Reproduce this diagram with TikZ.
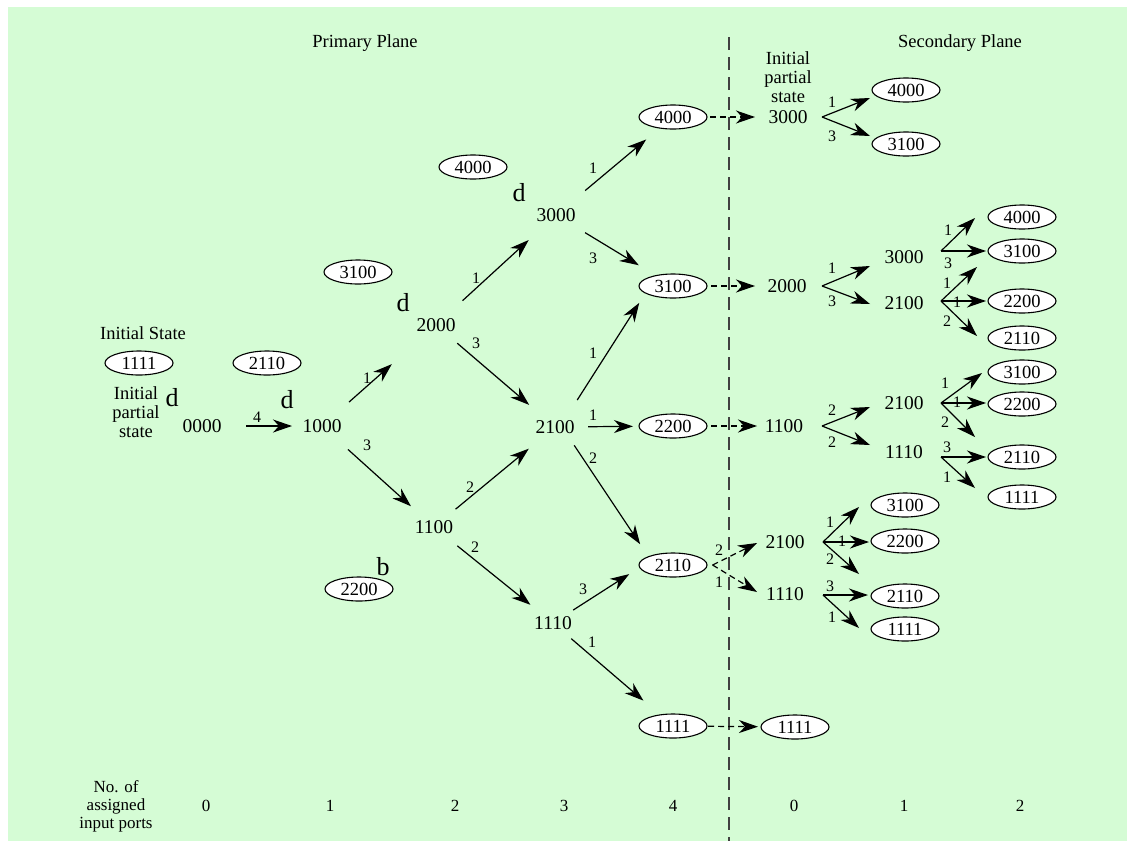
\documentclass[tikz,border=0pt]{standalone}
\usepackage{fontspec}
\setmainfont{Liberation Serif}
\usetikzlibrary{shapes.geometric,arrows.meta,calc}
\definecolor{bgcol}{RGB}{213,252,213}
\definecolor{divcol}{RGB}{64,64,64}
% connector between two named points, with shortening and a label
\newcommand\edg[8]{\draw[#1, shorten <=#4pt, shorten >=#5pt] (#2) -- (#3) node[lbl] (#7) at (#6) {#8};}
\newcommand\edgn[5]{\draw[#1, shorten <=#4pt, shorten >=#5pt] (#2) -- (#3);}
\newcommand\fan[6]{\draw[#1] (#2) -- (#3) node[lbl] (#5) at (#4) {#6};}
\begin{document}
\begin{tikzpicture}[x=1pt,y=-1pt,
  st/.style={inner sep=0pt, font=\fontsize{19.5}{19}\selectfont},
  ttl/.style={inner sep=0pt, align=center, font=\fontsize{18.5}{19}\selectfont},
  bt/.style={inner sep=0pt, align=center, font=\fontsize{17}{18}\selectfont},
  ell/.style={ellipse, draw, fill=white, line width=1.1pt, minimum width=68pt,
              minimum height=24pt, inner sep=0pt, font=\fontsize{18.5}{18}\selectfont},
  lbl/.style={inner sep=0pt, font=\fontsize{16}{16}\selectfont},
  dmark/.style={inner sep=0pt, font=\fontsize{26}{26}\selectfont},
  arr/.style={line width=1.2pt, -{Stealth[length=19pt,width=13pt,inset=6pt]}},
  darr/.style={arr, dash pattern=on 6pt off 4pt}]
\useasboundingbox (0,0) rectangle (1134,849);
\fill[bgcol] (8,7) rectangle (1127,841);

% divider
\draw[divcol, line width=1.3pt, dash pattern=on 13pt off 7pt] (729,37) -- (729,841);

% titles
\node[ttl, anchor=base] (tp) at (365,47) {Primary Plane};
\node[ttl, anchor=base] (ts) at (960,47) {Secondary Plane};

% left texts
\node[ttl] (ist) at (143,333) {Initial State};
\node[ttl] (ips) at (136,412) {Initial\\partial\\state};

% primary plane states
\node[st] (p0000) at (202,426) {0000};
\node[st] (p1000) at (322,426) {1000};
\node[st] (p2000) at (436,325) {2000};
\node[st] (p3000) at (556,215) {3000};
\node[st] (p1100) at (434,527) {1100};
\node[st] (p2100) at (555,427) {2100};
\node[st] (p1110) at (553,623) {1110};
\node[ell] (e4000) at (673,117) {4000};
\node[ell] (e3100) at (673,286) {3100};
\node[ell] (e2200) at (673,426) {2200};
\node[ell] (e2110) at (673,565) {2110};
\node[ell] (e1111) at (673,726) {1111};

% side ellipses and marks
\node[ell] (s1111) at (139,363) {1111};
\node[ell] (s2110) at (267,363) {2110};
\node[ell] (s3100) at (358,272) {3100};
\node[ell] (s4000) at (473,167) {4000};
\node[ell] (s2200) at (359,589) {2200};
\node[dmark] (d0) at (172,398) {d};
\node[dmark] (d1) at (287,400) {d};
\node[dmark] (d2) at (403,303) {d};
\node[dmark] (d3) at (519,193) {d};
\node[dmark] (bb) at (383,567) {b};

% primary edges
\edg{arr}{p0000.center}{p1000.center}{44}{30}{257,417}{l1}{4}
\edg{arr}{p1000.center}{p2000.center}{36}{59}{367,378}{l2}{1}
\edg{arr}{p1000.center}{p1100.center}{35}{31}{367,445}{l3}{3}
\edg{arr}{p2000.center}{p3000.center}{36}{37}{476,278}{l4}{1}
\edg{arr}{p2000.center}{p2100.center}{28}{34}{476,343}{l5}{3}
\edg{arr}{p3000.center}{e4000.center}{38}{35}{593,168}{l6}{1}
\edg{arr}{p3000.center}{e3100.center}{34}{40}{593,258}{l7}{3}
\edg{arr}{$(p2100.center)+(5,0)$}{$(e3100.center)+(-23,0)$}{32}{20}{593,353}{l8}{1}
\edg{arr}{p2100.center}{e2200.center}{33}{40}{593,415}{l9}{1}
\edg{arr}{$(p2100.center)+(7,0)$}{$(e2110.center)+(-19,0)$}{22}{25}{593,458}{l10}{2}
\edg{arr}{p1100.center}{p2100.center}{28}{34}{470,487}{l11}{2}
\edg{arr}{p1100.center}{p1110.center}{30}{29}{475,547}{l12}{2}
\edg{arr}{p1110.center}{$(e2110.center)+(0,-19)$}{24}{52}{583,589}{l13}{3}
\edg{arr}{p1110.center}{e1111.center}{24}{39}{592,642}{l14}{1}

% secondary plane states
\node[ttl] (ips2) at (788,77) {Initial\\partial\\state};
\node[st] (q3000) at (788,117) {3000};
\node[st] (q2000) at (787,286) {2000};
\node[st] (q1100) at (784,426) {1100};
\node[st] (q2100b) at (785,542) {2100};
\node[st] (q1110b) at (785,594) {1110};
\node[ell] (eq1111) at (795,727) {1111};
\node[ell] (r4000) at (906,90) {4000};
\node[ell] (r3100) at (906,144) {3100};
\node[st] (q3000b) at (904,257) {3000};
\node[st] (q2100a) at (904,303) {2100};
\node[st] (q2100c) at (904,403) {2100};
\node[st] (q1110c) at (904,452) {1110};
\node[ell] (f4000) at (1022,217) {4000};
\node[ell] (f3100a) at (1022,251) {3100};
\node[ell] (f2200a) at (1022,301) {2200};
\node[ell] (f2110a) at (1022,338) {2110};
\node[ell] (f3100b) at (1022,372) {3100};
\node[ell] (f2200b) at (1022,404) {2200};
\node[ell] (f2110b) at (1022,457) {2110};
\node[ell] (f1111b) at (1022,497) {1111};
\node[ell] (g3100) at (905,505) {3100};
\node[ell] (g2200) at (905,541) {2200};
\node[ell] (g2110) at (905,596) {2110};
\node[ell] (g1111) at (905,629) {1111};

% crossing dashed arrows
\edgn{darr}{e4000.center}{q3000.center}{37}{33}
\edgn{darr}{e3100.center}{q2000.center}{38}{32}
\edgn{darr}{e2200.center}{q1100.center}{38}{27}
\edgn{darr}{e1111.center}{eq1111.center}{35}{37}

% fan origins
\coordinate (o1) at ($(q3000.center)+(34,0)$);
\coordinate (o2) at ($(q2000.center)+(35,0)$);
\coordinate (o3) at ($(q1100.center)+(38,0)$);
\coordinate (o4) at ($(q3000b.center)+(37,-6)$);
\coordinate (o5) at ($(q2100a.center)+(37,-2)$);
\coordinate (o6) at ($(q2100c.center)+(37,0)$);
\coordinate (o7) at ($(q1110c.center)+(37,5)$);
\coordinate (o8) at ($(q2100b.center)+(38,0)$);
\coordinate (o9) at ($(q1110b.center)+(38,1)$);
\coordinate (o10) at ($(e2110.east)+(5,0)$);

% fan tips
\coordinate (t1a) at (870,98);  \coordinate (t1b) at (870,136);
\coordinate (t2a) at (870,266); \coordinate (t2b) at (870,304);
\coordinate (t3a) at (870,407); \coordinate (t3b) at (870,445);
\coordinate (t4a) at (975,218); \coordinate (t4b) at (986,251);
\coordinate (t5a) at (977,267); \coordinate (t5b) at (986,301); \coordinate (t5c) at (977,336);
\coordinate (t6a) at (982,373); \coordinate (t6b) at (986,403); \coordinate (t6c) at (975,437);
\coordinate (t7a) at (986,457); \coordinate (t7b) at (975,488);
\coordinate (t8a) at (859,507); \coordinate (t8b) at (869,542); \coordinate (t8c) at (859,574);
\coordinate (t9a) at (868,595); \coordinate (t9b) at (859,628);
\coordinate (t10a) at (757,543); \coordinate (t10b) at (757,592);

% fans
\fan{arr}{o1}{t1a}{832,102}{m1a}{1}
\fan{arr}{o1}{t1b}{832,136}{m1b}{3}
\fan{arr}{o2}{t2a}{832,268}{m2a}{1}
\fan{arr}{o2}{t2b}{832,301}{m2b}{3}
\fan{arr}{o3}{t3a}{832,410}{m3a}{2}
\fan{arr}{o3}{t3b}{832,442}{m3b}{2}
\fan{arr}{o4}{t4a}{948,230}{m4a}{1}
\fan{arr}{o4}{t4b}{948,263}{m4b}{3}
\fan{arr}{o5}{t5a}{947,283}{m5a}{1}
\fan{arr}{o5}{t5b}{957,302}{m5b}{1}
\fan{arr}{o5}{t5c}{947,321}{m5c}{2}
\fan{arr}{o6}{t6a}{945,383}{m6a}{1}
\fan{arr}{o6}{t6b}{957,402}{m6b}{1}
\fan{arr}{o6}{t6c}{945,422}{m6c}{2}
\fan{arr}{o7}{t7a}{947,447}{m7a}{3}
\fan{arr}{o7}{t7b}{947,477}{m7b}{1}
\fan{arr}{o8}{t8a}{830,522}{m8a}{1}
\fan{arr}{o8}{t8b}{842,541}{m8b}{1}
\fan{arr}{o8}{t8c}{830,559}{m8c}{2}
\fan{arr}{o9}{t9a}{830,586}{m9a}{3}
\fan{arr}{o9}{t9b}{832,617}{m9b}{1}
\fan{darr}{o10}{t10a}{719,550}{m10a}{2}
\fan{darr}{o10}{t10b}{719,582}{m10b}{1}

% bottom scale
\node[bt] (nap) at (116,806) {No. of\\assigned\\input ports};
\node[bt] (c0) at (206,806) {0};
\node[bt] (c1) at (330,806) {1};
\node[bt] (c2) at (455,806) {2};
\node[bt] (c3) at (564,806) {3};
\node[bt] (c4) at (673,806) {4};
\node[bt] (c5) at (794,806) {0};
\node[bt] (c6) at (904,806) {1};
\node[bt] (c7) at (1020,806) {2};
\end{tikzpicture}
\end{document}
